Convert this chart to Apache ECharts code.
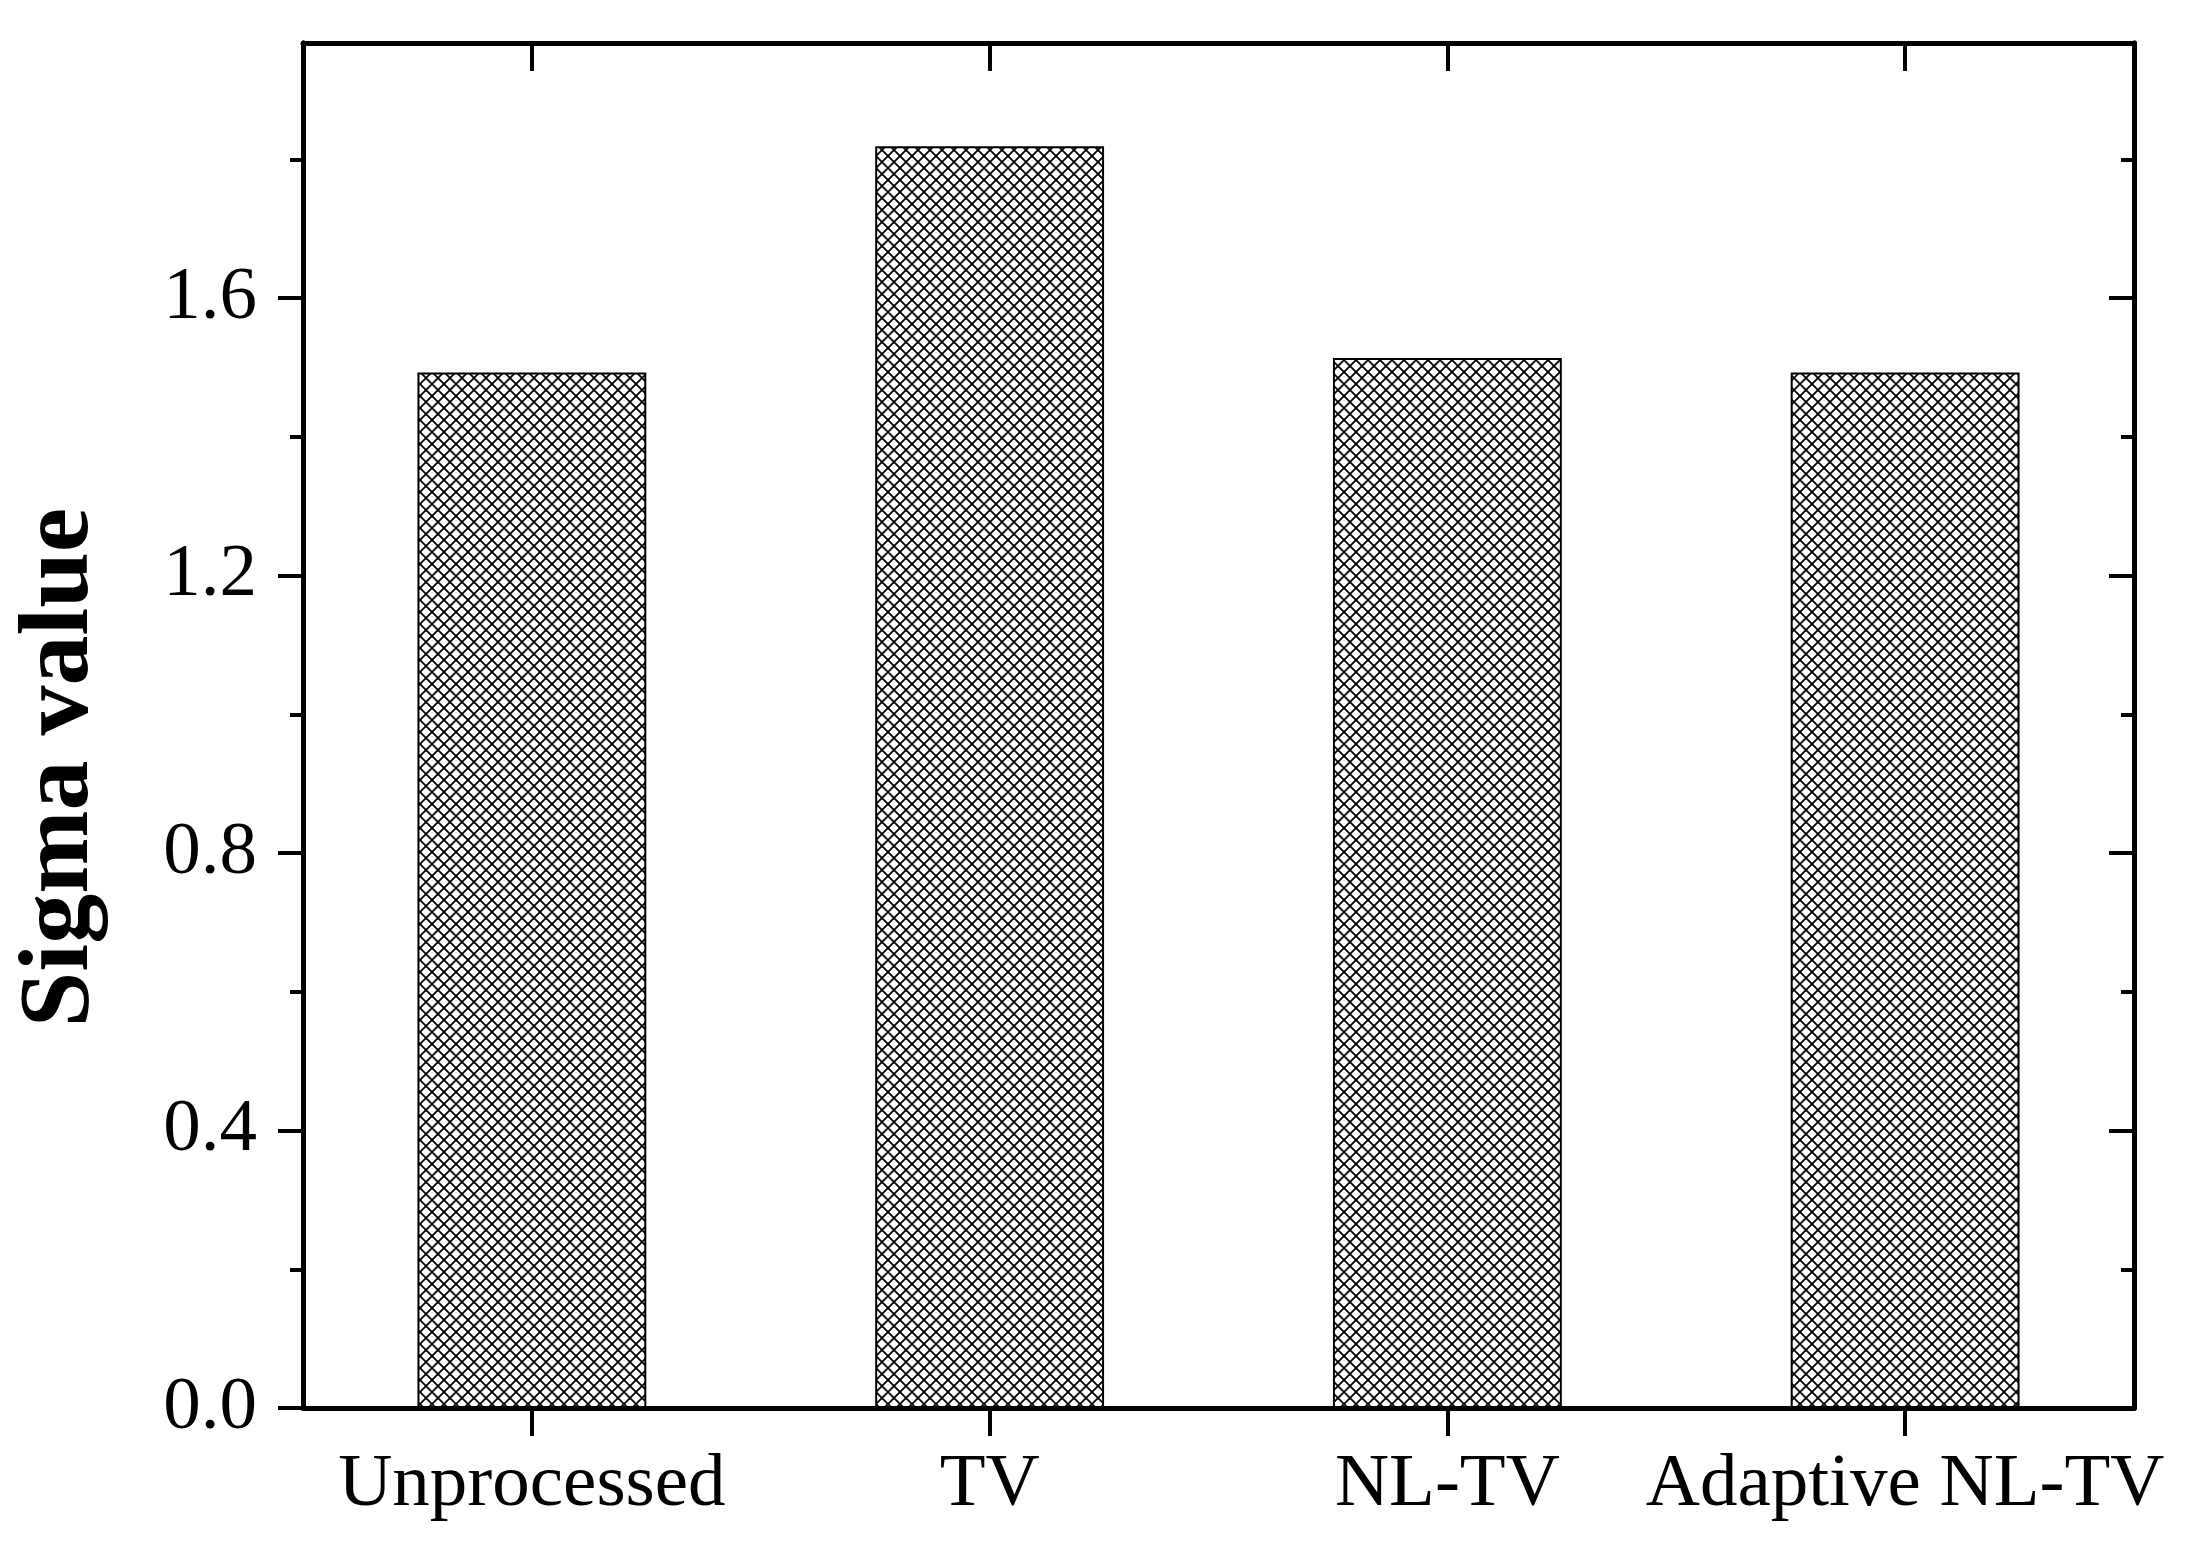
<!DOCTYPE html>
<html>
<head>
<meta charset="utf-8">
<script src="https://cdn.jsdelivr.net/npm/echarts@6/dist/echarts.min.js"></script>
<style>
html,body{margin:0;padding:0;background:#fff;}
#chart{width:2202px;height:1565px;}
</style>
</head>
<body>
<div id="chart"></div>
<script>
const categories = ['Unprocessed', 'TV', 'NL-TV', 'Adaptive NL-TV'];
const sigmaValues = [1.493, 1.819, 1.514, 1.493];
const majorTicks = [0, 0.4, 0.8, 1.2, 1.6];
const minorTicks = [0, 0.2, 0.4, 0.6, 0.8, 1.0, 1.2, 1.4, 1.6, 1.8];
const yMin = 0, yMax = 1.968;

function hatch() {
  const c = document.createElement('canvas');
  const s = 12;
  c.width = s; c.height = s;
  const g = c.getContext('2d');
  g.fillStyle = '#fff'; g.fillRect(0, 0, s, s);
  g.strokeStyle = '#000'; g.lineWidth = 1.8;
  g.beginPath();
  g.moveTo(-2, -2); g.lineTo(s + 2, s + 2);
  g.moveTo(s + 2, -2); g.lineTo(-2, s + 2);
  g.stroke();
  return c;
}

const FONT = '"Liberation Serif", "Times New Roman", serif';
const lineStyle = {color: '#000', width: 5};
const chart = echarts.init(document.getElementById('chart'), null, {renderer: 'canvas'});

function yAx(pos, ticks, len, inside, showLabel, name) {
  const a = {
    type: 'value', position: pos, min: yMin, max: yMax,
    axisLine: {show: true, onZero: false, lineStyle: lineStyle},
    axisTick: {show: true, inside: inside, length: len, lineStyle: {color: '#000', width: 4}, customValues: ticks},
    axisLabel: showLabel ? {show: true, customValues: majorTicks, margin: 46, fontSize: 75, fontFamily: FONT, color: '#000', formatter: v => v.toFixed(1)} : {show: false},
    splitLine: {show: false}
  };
  if (name) {
    a.name = name; a.nameLocation = 'middle'; a.nameGap = 192;
    a.nameTextStyle = {fontSize: 100, fontWeight: 'bold', fontFamily: FONT, color: '#000', padding: [0, 84, 0, 0]};
  }
  return a;
}

chart.setOption({
  animation: false,
  backgroundColor: '#fff',
  grid: {left: 303, right: 68, top: 43, bottom: 157, containLabel: false, outerBoundsMode: 'none'},
  xAxis: [
    {type: 'category', data: categories, position: 'bottom',
     axisLine: {show: true, onZero: false, lineStyle: lineStyle},
     axisTick: {show: true, alignWithLabel: true, inside: false, length: 28, lineStyle: {color: '#000', width: 4}},
     axisLabel: {show: true, margin: 40, fontSize: 75, fontFamily: FONT, color: '#000', interval: 0}},
    {type: 'category', data: categories, position: 'top',
     axisLine: {show: true, onZero: false, lineStyle: lineStyle},
     axisTick: {show: true, alignWithLabel: true, inside: true, length: 28, lineStyle: {color: '#000', width: 4}},
     axisLabel: {show: false}}
  ],
  yAxis: [
    yAx('left', majorTicks, 25, false, true, 'Sigma value'),
    yAx('left', minorTicks, 13, false, false),
    yAx('right', majorTicks, 25, true, false),
    yAx('right', minorTicks, 13, true, false)
  ],
  series: [{
    type: 'bar', xAxisIndex: 0, yAxisIndex: 0, data: sigmaValues, barWidth: '50%',
    itemStyle: {color: {image: hatch(), repeat: 'repeat'}, borderColor: '#000', borderWidth: 2}
  }]
});
</script>
</body>
</html>
